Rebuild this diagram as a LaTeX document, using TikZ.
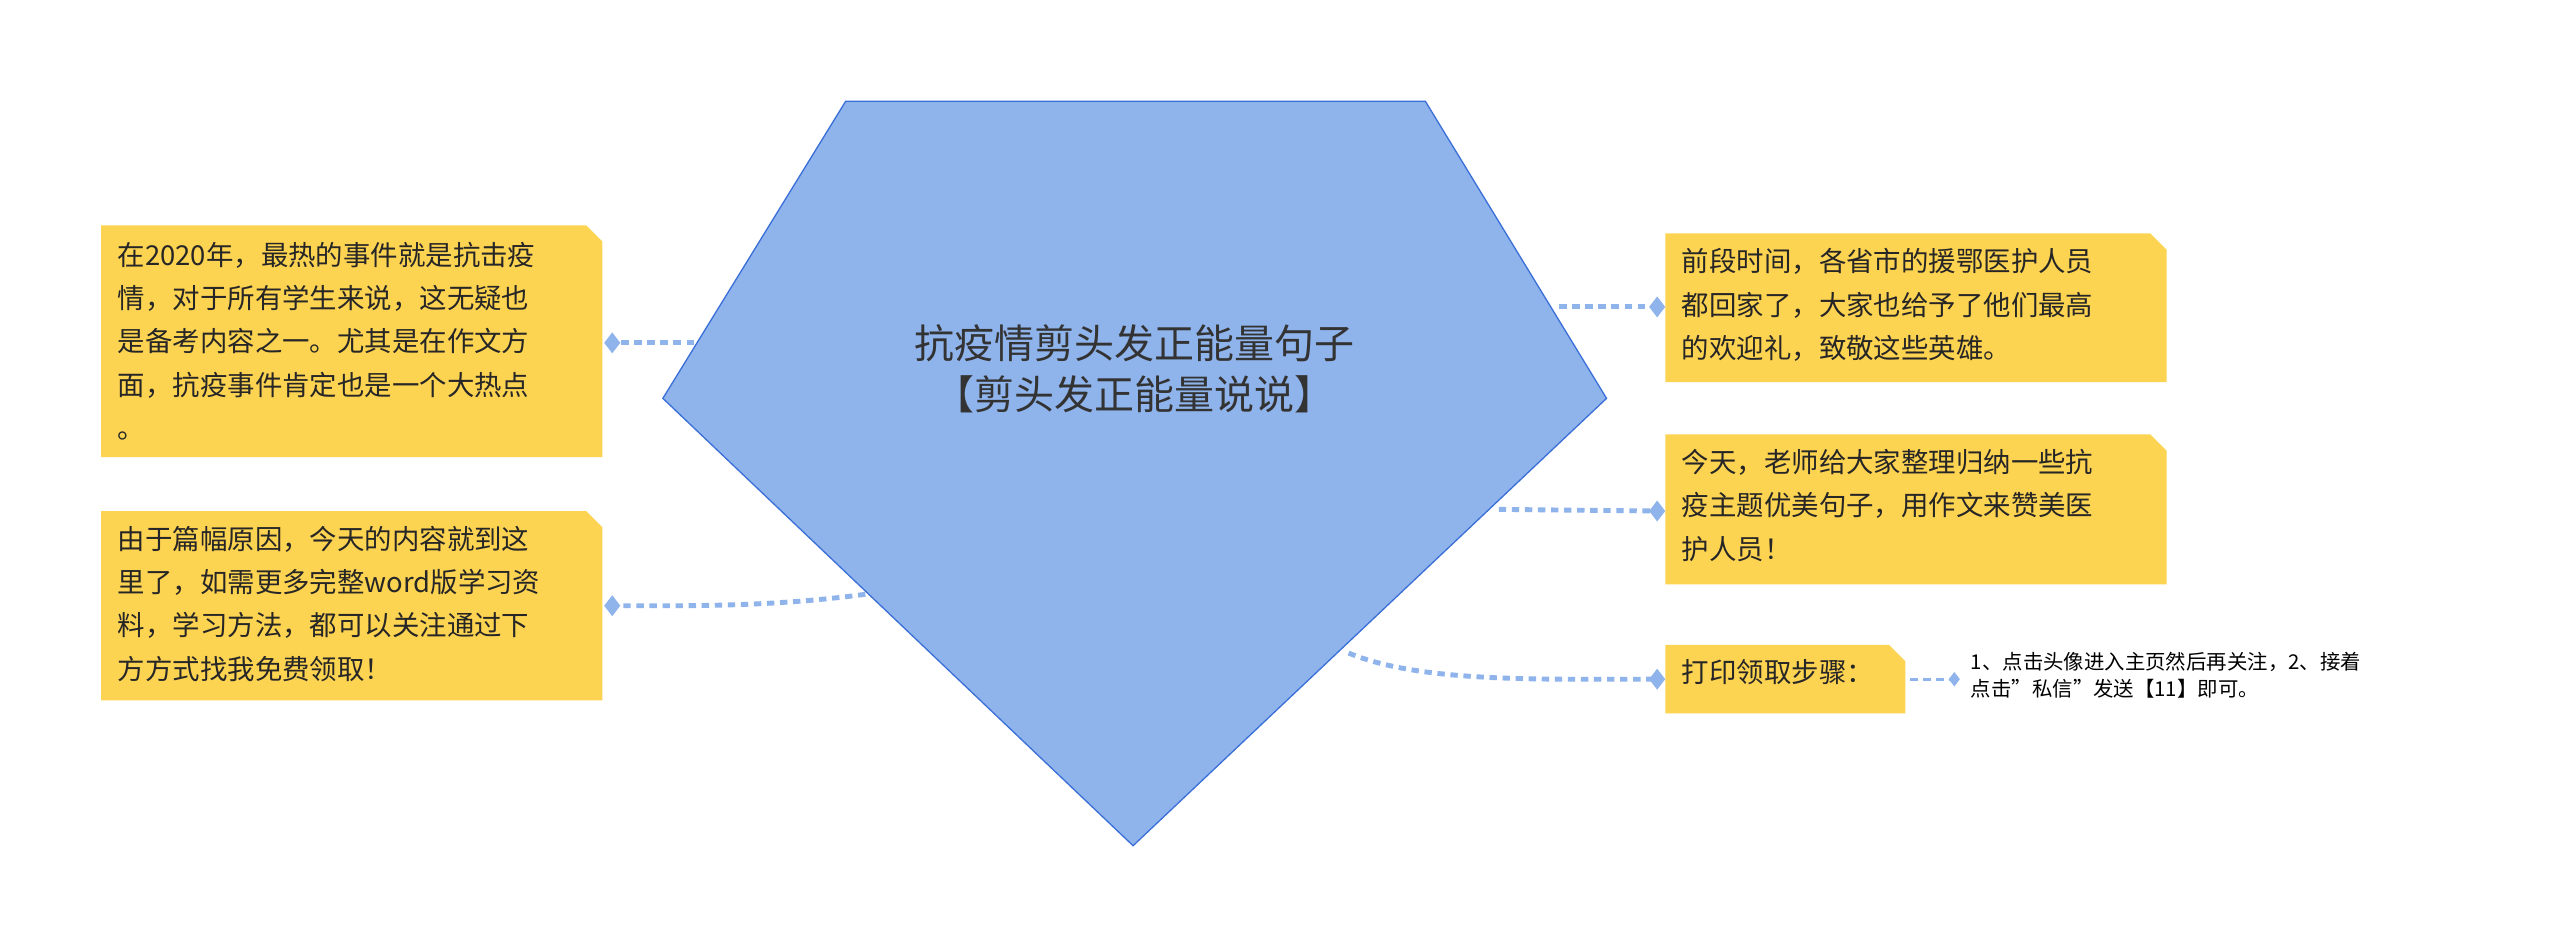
\documentclass[tikz,border=0pt]{standalone}
\usepackage{fontspec}
\setmainfont{Noto Sans CJK SC}
\usetikzlibrary{shapes.geometric}
\definecolor{pent}{HTML}{8FB3EB}
\definecolor{pentb}{HTML}{3A6FD8}
\definecolor{yel}{HTML}{FDD352}
\definecolor{lnk}{HTML}{8FB3EB}
\tikzset{
 x=1pt,y=-1pt,
 txt/.style={anchor=north west,align=left,font=\fontsize{16.8}{26.5}\selectfont,text=black!85,inner sep=0pt},
 lk/.style={draw=lnk,line width=3pt,dash pattern=on 4.5pt off 3.5pt},
 dm/.style={diamond,fill=lnk,minimum width=10pt,minimum height=13pt,inner sep=0pt},
}
\newcommand{\fold}[5]{\fill[yel] (#1,#2)--(#3-10,#2)--(#3,#2+10)--(#3,#4)--(#1,#4)--cycle; \coordinate (#5) at (#1,{(#2+#4)/2});}
\begin{document}
\begin{tikzpicture}
\useasboundingbox (0,0) rectangle (1568,580);
\fill[white] (0,0) rectangle (1568,580);
% connectors
\coordinate (p1) at (425,210);
\coordinate (p2) at (530,364);
\coordinate (p3) at (955,188);
\coordinate (p4) at (918,312);
\coordinate (p5) at (826,400);
\draw[lk] (p1) -- (375,210);
\draw[lk] (p2) .. controls (470,372) and (420,371) .. (375,371);
\draw[lk] (p3) -- (1015,188);
\draw[lk] (p4) -- (1015,313);
\draw[lk] (p5) .. controls (870,418) and (940,416) .. (1015,416);
\draw[lk,line width=1.8pt] (1170,416) -- (1197,416);
% pentagon
\filldraw[fill=pent,draw=pentb,line width=0.8pt] (518,62)--(873,62)--(984,244)--(694,518)--(406,244)--cycle;
\node[font=\fontsize{24.5}{31}\selectfont,align=center,text=black!80] (title) at (695,226) {抗疫情剪头发正能量句子\\【剪头发正能量说说】};
% boxes
\fold{62}{138}{369}{280}{b1}
\node[txt] (t1) at (72,148) {在2020年，最热的事件就是抗击疫\\情，对于所有学生来说，这无疑也\\是备考内容之一。尤其是在作文方\\面，抗疫事件肯定也是一个大热点\\。};
\fold{62}{313}{369}{429}{b2}
\node[txt] (t2) at (72,322) {由于篇幅原因，今天的内容就到这\\里了，如需更多完整word版学习资\\料，学习方法，都可以关注通过下\\方方式找我免费领取！};
\fold{1020}{143}{1327}{234}{b3}
\node[txt] (t3) at (1030,152) {前段时间，各省市的援鄂医护人员\\都回家了，大家也给予了他们最高\\的欢迎礼，致敬这些英雄。};
\fold{1020}{266}{1327}{358}{b4}
\node[txt] (t4) at (1030,275) {今天，老师给大家整理归纳一些抗\\疫主题优美句子，用作文来赞美医\\护人员！};
\fold{1020}{395}{1167}{437}{b5}
\node[txt] (t5) at (1030,404) {打印领取步骤：};
\node[anchor=north west,align=left,font=\fontsize{12.5}{17}\selectfont,inner sep=0pt] (t6) at (1207,399) {1、点击头像进入主页然后再关注，2、接着\\点击"私信"发送【11】即可。};
% diamonds
\node[dm] at (375,210) {};
\node[dm] at (375,371) {};
\node[dm] at (1015,188) {};
\node[dm] at (1015,313) {};
\node[dm] at (1015,416) {};
\node[dm,minimum width=7pt,minimum height=9pt] at (1197,416) {};
\end{tikzpicture}
\end{document}
